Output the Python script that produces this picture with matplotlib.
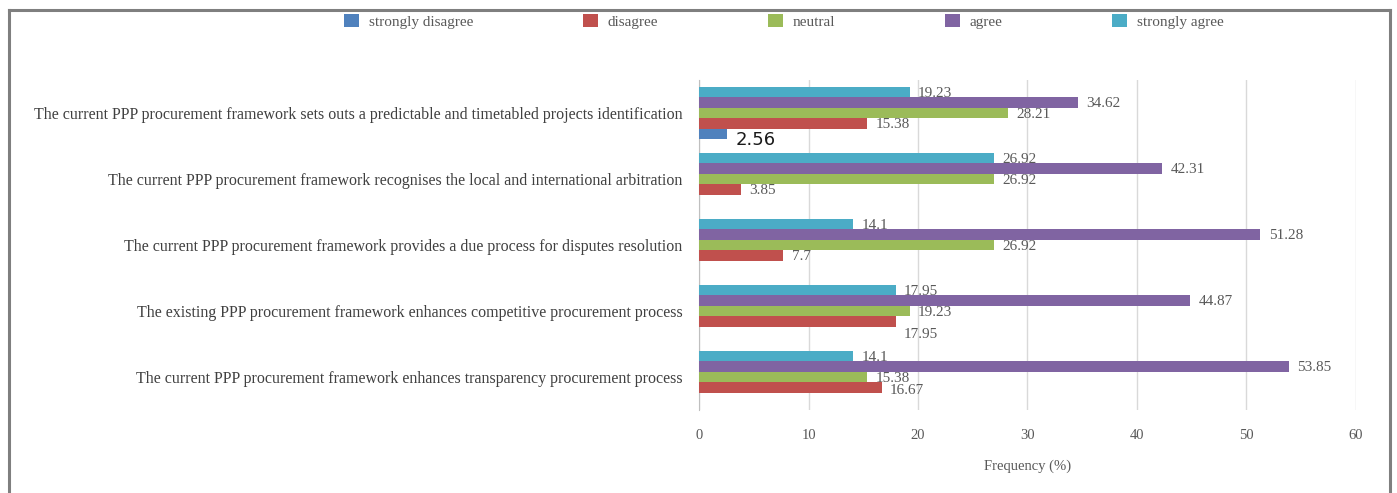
import numpy as np
import matplotlib.pyplot as plt
from matplotlib.lines import Line2D

# statements, bottom to top as drawn
statements = [
    'The current PPP procurement framework enhances transparency procurement process',
    'The existing PPP procurement framework enhances competitive procurement process',
    'The current PPP procurement framework provides a due process for disputes resolution',
    'The current PPP procurement framework recognises the local and international arbitration',
    'The current PPP procurement framework sets outs a predictable and timetabled projects identification',
]
levels = ['strongly disagree', 'disagree', 'neutral', 'agree', 'strongly agree']

strongly_disagree = [0, 0, 0, 0, 2.56]
disagree = [16.67, 17.95, 7.7, 3.85, 15.38]
neutral = [15.38, 19.23, 26.92, 26.92, 28.21]
agree = [53.85, 44.87, 51.28, 42.31, 34.62]
strongly_agree = [14.1, 17.95, 14.1, 26.92, 19.23]

series = [strongly_disagree, disagree, neutral, agree, strongly_agree]
colors = ['#4F81BD', '#C0504D', '#9BBB59', '#8064A2', '#4BACC6']

plt.rcParams['font.family'] = ['Liberation Serif', 'DejaVu Serif']
txt = '#595959'

fig = plt.figure(figsize=(13.97, 4.93), dpi=100)
ax = fig.add_axes([0.5004, 0.1684, 0.4702, 0.6693])

y = np.arange(len(statements))
h = 0.16
for i, (vals, col, name) in enumerate(zip(series, colors, levels)):
    pos = y + (i - 2) * h
    mask = np.array(vals) > 0
    ax.barh(pos[mask], np.array(vals)[mask], height=h, color=col, label=name,
            zorder=3)
    for p, v, m, k in zip(pos, vals, mask, range(len(vals))):
        if not m:
            continue
        if i == 0:
            # this one label is set in a different, larger font
            ax.annotate(f'{v:g}', (v, p), xytext=(6, -4), textcoords='offset points',
                        va='center', ha='left', fontsize=13, color='#1a1a1a',
                        family='DejaVu Sans')
            continue
        dy = -1
        if i == 1 and k == 1:
            dy = -9
        if i == 1 and k == 0:
            dy = -2
        ax.annotate(f'{v:g}', (v, p), xytext=(6, dy), textcoords='offset points',
                    va='center', ha='left', fontsize=11, color=txt)

ax.set_xlim(0, 60)
ax.set_ylim(-0.5, 4.5)
ax.set_xticks(range(0, 61, 10))
ax.set_yticks(y)
ax.set_yticklabels(statements, fontsize=11.5, color='#404040')
ax.tick_params(axis='y', length=0, pad=12)
ax.tick_params(axis='x', length=0, pad=14, labelsize=10.5, labelcolor=txt)
ax.grid(axis='x', color='#D9D9D9', linewidth=1, zorder=0)
for s in ['top', 'right', 'bottom']:
    ax.spines[s].set_visible(False)
ax.spines['left'].set_color('#BFBFBF')
ax.set_xlabel('Frequency (%)', fontsize=10.5, color=txt, labelpad=12)

leg = fig.legend(loc='upper center', bbox_to_anchor=(0.561, 1.0), ncol=5,
                 frameon=False, fontsize=11, handlelength=1.0, handleheight=1.0,
                 handletextpad=0.6, columnspacing=7.2, labelcolor=txt)

# outer frame
fig.add_artist(Line2D([0.0065, 0.995], [0.98, 0.98], color='#7F7F7F', lw=2.2,
                      transform=fig.transFigure))
fig.add_artist(Line2D([0.0065, 0.0065], [0.0, 0.98], color='#7F7F7F', lw=2.2,
                      transform=fig.transFigure))
fig.add_artist(Line2D([0.995, 0.995], [0.0, 0.98], color='#7F7F7F', lw=2.2,
                      transform=fig.transFigure))

fig.savefig('out.png', dpi=100)
